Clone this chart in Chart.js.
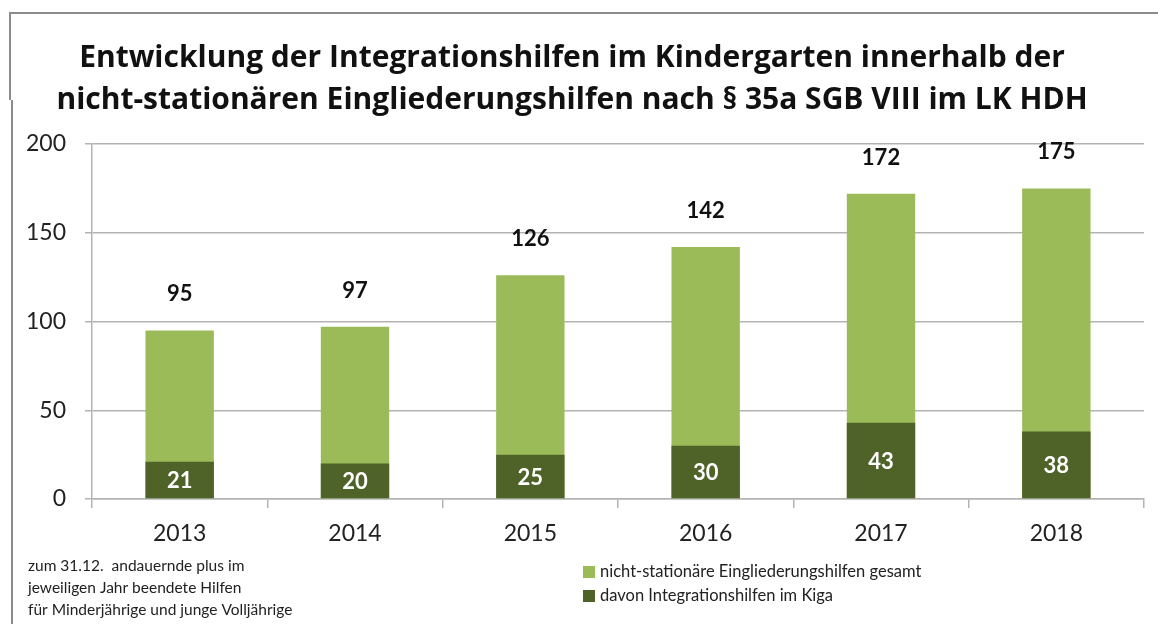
<!DOCTYPE html>
<html lang="de">
<head>
<meta charset="utf-8">
<title>Integrationshilfen im Kindergarten</title>
<script src="https://cdn.jsdelivr.net/npm/chart.js@4.4.1/dist/chart.umd.min.js"></script>
<style>
  html, body { margin: 0; padding: 0; background: #fff; }
  #wrap { position: relative; width: 1158px; height: 624px; }
</style>
</head>
<body>
<div id="wrap"><canvas id="kigaChart"></canvas></div>
<script>
// Data
const years = ["2013", "2014", "2015", "2016", "2017", "2018"];
const totalHelp = [95, 97, 126, 142, 172, 175];
const kigaHelp = [21, 20, 25, 30, 43, 38];
const yTicks = [0, 50, 100, 150, 200];

const titleLines = [
    "Entwicklung der Integrationshilfen im Kindergarten innerhalb der",
    "nicht-stationären Eingliederungshilfen nach § 35a SGB VIII im LK HDH"
];
const footnoteLines = [
    "zum 31.12.  andauernde plus im",
    "jeweiligen Jahr beendete Hilfen",
    "für Minderjährige und junge Volljährige"
];
const totalLabel = "nicht-stationäre Eingliederungshilfen gesamt";
const kigaLabel = "davon Integrationshilfen im Kiga";

const lightGreen = "#9bbb59";
const darkGreen = "#4f6228";
const gridGray = "#b3b3b3";
const FONT = "Lato, 'Open Sans', sans-serif";
const TITLE_FONT = "'Open Sans', Lato, sans-serif";

// value labels on the bars
const valueLabels = {
    id: "valueLabels",
    afterDatasetsDraw(chart) {
        const ctx = chart.ctx;
        ctx.save();
        ctx.textAlign = "center";
        ctx.textBaseline = "middle";
        ctx.font = "bold 22px " + FONT;
        chart.getDatasetMeta(1).data.forEach((bar, i) => {
            ctx.fillStyle = "#111";
            ctx.fillText(totalHelp[i], bar.x, bar.y - 36);
        });
        chart.getDatasetMeta(0).data.forEach((bar, i) => {
            ctx.fillStyle = "#fff";
            ctx.fillText(kigaHelp[i], bar.x, (bar.y + bar.base) / 2 + 1);
        });
        ctx.restore();
    }
};

// frame, footnote and the two-line legend at the bottom
const extras = {
    id: "extras",
    afterDraw(chart) {
        const ctx = chart.ctx;
        ctx.save();
        ctx.strokeStyle = "#8c8c8c";
        ctx.lineWidth = 2;
        ctx.beginPath();
        ctx.moveTo(1158, 13);
        ctx.lineTo(10, 13);
        ctx.lineTo(10, 100);
        ctx.moveTo(12, 100);
        ctx.lineTo(12, 624);
        ctx.stroke();

        ctx.fillStyle = "#222";
        ctx.textBaseline = "middle";
        ctx.textAlign = "left";
        ctx.font = "15.5px " + FONT;
        footnoteLines.forEach((line, i) => ctx.fillText(line, 28, 566 + i * 22));

        const items = [
            { text: totalLabel, color: lightGreen },
            { text: kigaLabel, color: darkGreen }
        ];
        ctx.font = "16.5px " + FONT;
        items.forEach((it, i) => {
            const y = 572 + i * 24;
            ctx.fillStyle = it.color;
            ctx.fillRect(583, y - 6, 12, 12);
            ctx.fillStyle = "#222";
            ctx.fillText(it.text, 600, y);
        });
        ctx.restore();
    }
};

new Chart(document.getElementById("kigaChart"), {
    type: "bar",
    data: {
        labels: years,
        datasets: [{
            label: kigaLabel,
            data: kigaHelp,
            backgroundColor: darkGreen,
            grouped: false,
            categoryPercentage: 1,
            barPercentage: 0.39,
        }, {
            label: totalLabel,
            data: totalHelp,
            backgroundColor: lightGreen,
            grouped: false,
            categoryPercentage: 1,
            barPercentage: 0.39,
        }],
    },
    options: {
        responsive: true,
        maintainAspectRatio: false,
        animation: false,
        layout: { padding: { left: 0, right: 14, top: 0, bottom: 0 } },
        plugins: {
            legend: { display: false },
            tooltip: { enabled: false },
            title: {
                display: true,
                text: titleLines,
                color: "#111",
                font: { family: TITLE_FONT, size: 30, weight: "bold", lineHeight: 1.4 },
                padding: { top: 37, bottom: 23 },
            },
        },
        scales: {
            x: {
                grid: { drawOnChartArea: false, drawTicks: true, tickLength: 9, color: gridGray, lineWidth: 1.5 },
                border: { color: gridGray, width: 1.5 },
                ticks: { color: "#222", padding: 12, font: { family: FONT, size: 23 } },
                afterFit: scale => { scale.height = 125; },
            },
            y: {
                min: 0,
                max: 200,
                afterBuildTicks: scale => { scale.ticks = yTicks.map(v => ({ value: v })); },
                grid: { color: gridGray, lineWidth: 1.5, tickLength: 7 },
                border: { color: gridGray, width: 1.5 },
                ticks: { color: "#222", padding: 19, font: { family: FONT, size: 23 } },
                afterFit: scale => { scale.width = 92; },
            },
        },
    },
    plugins: [valueLabels, extras],
});
</script>
</body>
</html>
